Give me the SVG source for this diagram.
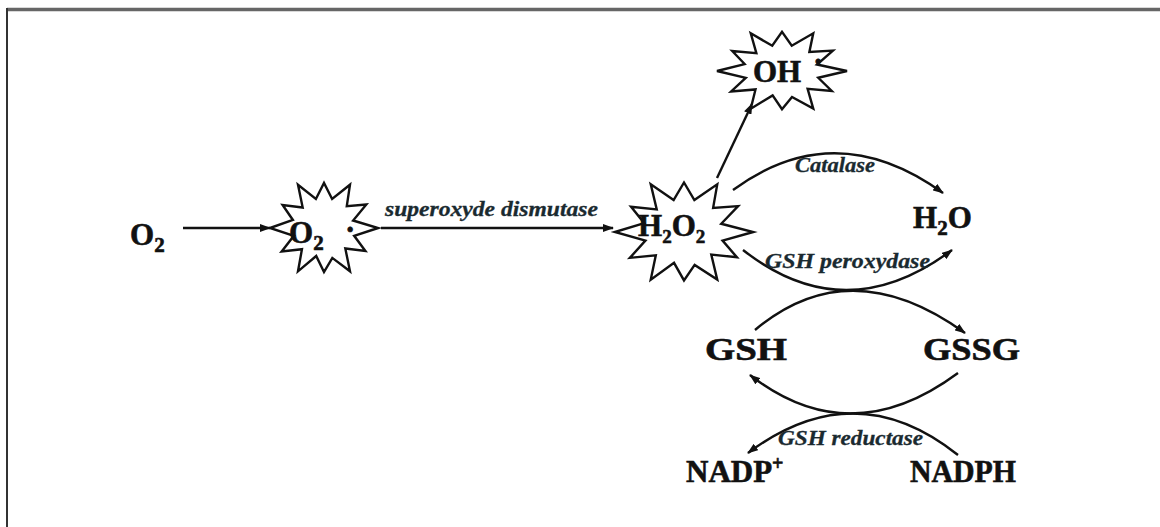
<svg xmlns="http://www.w3.org/2000/svg" width="1160" height="527" viewBox="0 0 1160 527">
<style>
.big{font-family:"Liberation Serif","Times New Roman",serif;font-weight:bold;font-size:31px;fill:#111;stroke:#111;stroke-width:0.6}
.lab{font-family:"Liberation Serif","Times New Roman",serif;font-weight:bold;font-style:italic;font-size:21px;fill:#1a2a30;stroke:#1a2a30;stroke-width:0.3}
.conn{fill:none;stroke:#111;stroke-width:2.4;marker-end:url(#ah)}
.star{fill:#fff;stroke:#111;stroke-width:2.4;stroke-linejoin:miter}
</style>
<defs>
<marker id="ah" markerUnits="userSpaceOnUse" markerWidth="11" markerHeight="8" refX="10" refY="4" orient="auto">
<path d="M0,0 L11,4 L0,8 z" fill="#111"/>
</marker>
<polygon id="burst" vector-effect="non-scaling-stroke" points="52,0 29,7.8 39.8,23 20.5,20.5 25,43.3 8,29.9 0,44 -7.5,28 -25,43.3 -21.2,21.2 -40.7,23.5 -29,7.8 -52,0 -29.9,-8 -39.8,-23 -20.5,-20.5 -25,-43.3 -7.8,-29 0,-45 7.8,-29 25,-43.3 21.9,-21.9 40.7,-23.5 28,-7.5"/>
</defs>
<rect width="1160" height="527" fill="#fff"/>
<g id="frame">
<line x1="7" y1="9.5" x2="1160" y2="9.5" stroke="#666" stroke-width="3.5"/>
<line x1="7" y1="8" x2="7" y2="527" stroke="#333" stroke-width="2"/>
</g>
<g id="connectors">
<line class="conn" x1="183" y1="228" x2="270" y2="228"/>
<line class="conn" x1="381" y1="228" x2="613" y2="228"/>
<line class="conn" x1="717" y1="178" x2="752" y2="104"/>
<path class="conn" d="M733,190 Q835,115 943,193"/>
<path class="conn" d="M743,250 Q845,330 952,250"/>
<path class="conn" d="M755,330 Q850,250 965,333"/>
<path class="conn" d="M958,373 Q850,453 750,375"/>
<path class="conn" d="M958,455 Q855,373 748,453"/>
<text class="lab" x="385" y="216" textLength="213" lengthAdjust="spacingAndGlyphs">superoxyde dismutase</text>
<text class="lab" x="795" y="172" textLength="80" lengthAdjust="spacingAndGlyphs">Catalase</text>
<text class="lab" x="765" y="268" textLength="165" lengthAdjust="spacingAndGlyphs">GSH peroxydase</text>
<text class="lab" x="778" y="445" textLength="145" lengthAdjust="spacingAndGlyphs">GSH reductase</text>
</g>
<g id="n-o2">
<text class="big" x="130" y="245">O<tspan font-size="21" dy="7">2</tspan></text>
</g>
<g id="n-superoxide">
<use href="#burst" class="star" transform="translate(324,228) scale(1.04,1.0)"/>
<text class="big" x="289" y="243">O<tspan font-size="21" dy="7">2</tspan><tspan x="345" dy="-10">·</tspan></text>
</g>
<g id="n-h2o2">
<use href="#burst" class="star" transform="translate(684,232) scale(1.33,1.1)"/>
<text class="big" x="638" y="236" font-size="28">H<tspan font-size="19" dy="7">2</tspan><tspan dy="-7">O</tspan><tspan font-size="19" dy="7">2</tspan></text>
</g>
<g id="n-oh">
<use href="#burst" class="star" transform="translate(782,71) scale(1.25,0.87)"/>
<text class="big" x="753" y="82" font-size="29">OH<tspan x="813" dy="-10">·</tspan></text>
</g>
<g id="n-h2o">
<text class="big" x="913" y="228">H<tspan font-size="21" dy="7">2</tspan><tspan dy="-7">O</tspan></text>
</g>
<g id="n-gsh">
<text class="big" x="705" y="360" textLength="82" lengthAdjust="spacingAndGlyphs">GSH</text>
</g>
<g id="n-gssg">
<text class="big" x="923" y="360" textLength="97" lengthAdjust="spacingAndGlyphs">GSSG</text>
</g>
<g id="n-nadp">
<text class="big" x="686" y="482">NADP<tspan font-size="20" dy="-12">+</tspan></text>
</g>
<g id="n-nadph">
<text class="big" x="910" y="482" textLength="106" lengthAdjust="spacingAndGlyphs">NADPH</text>
</g>
</svg>
